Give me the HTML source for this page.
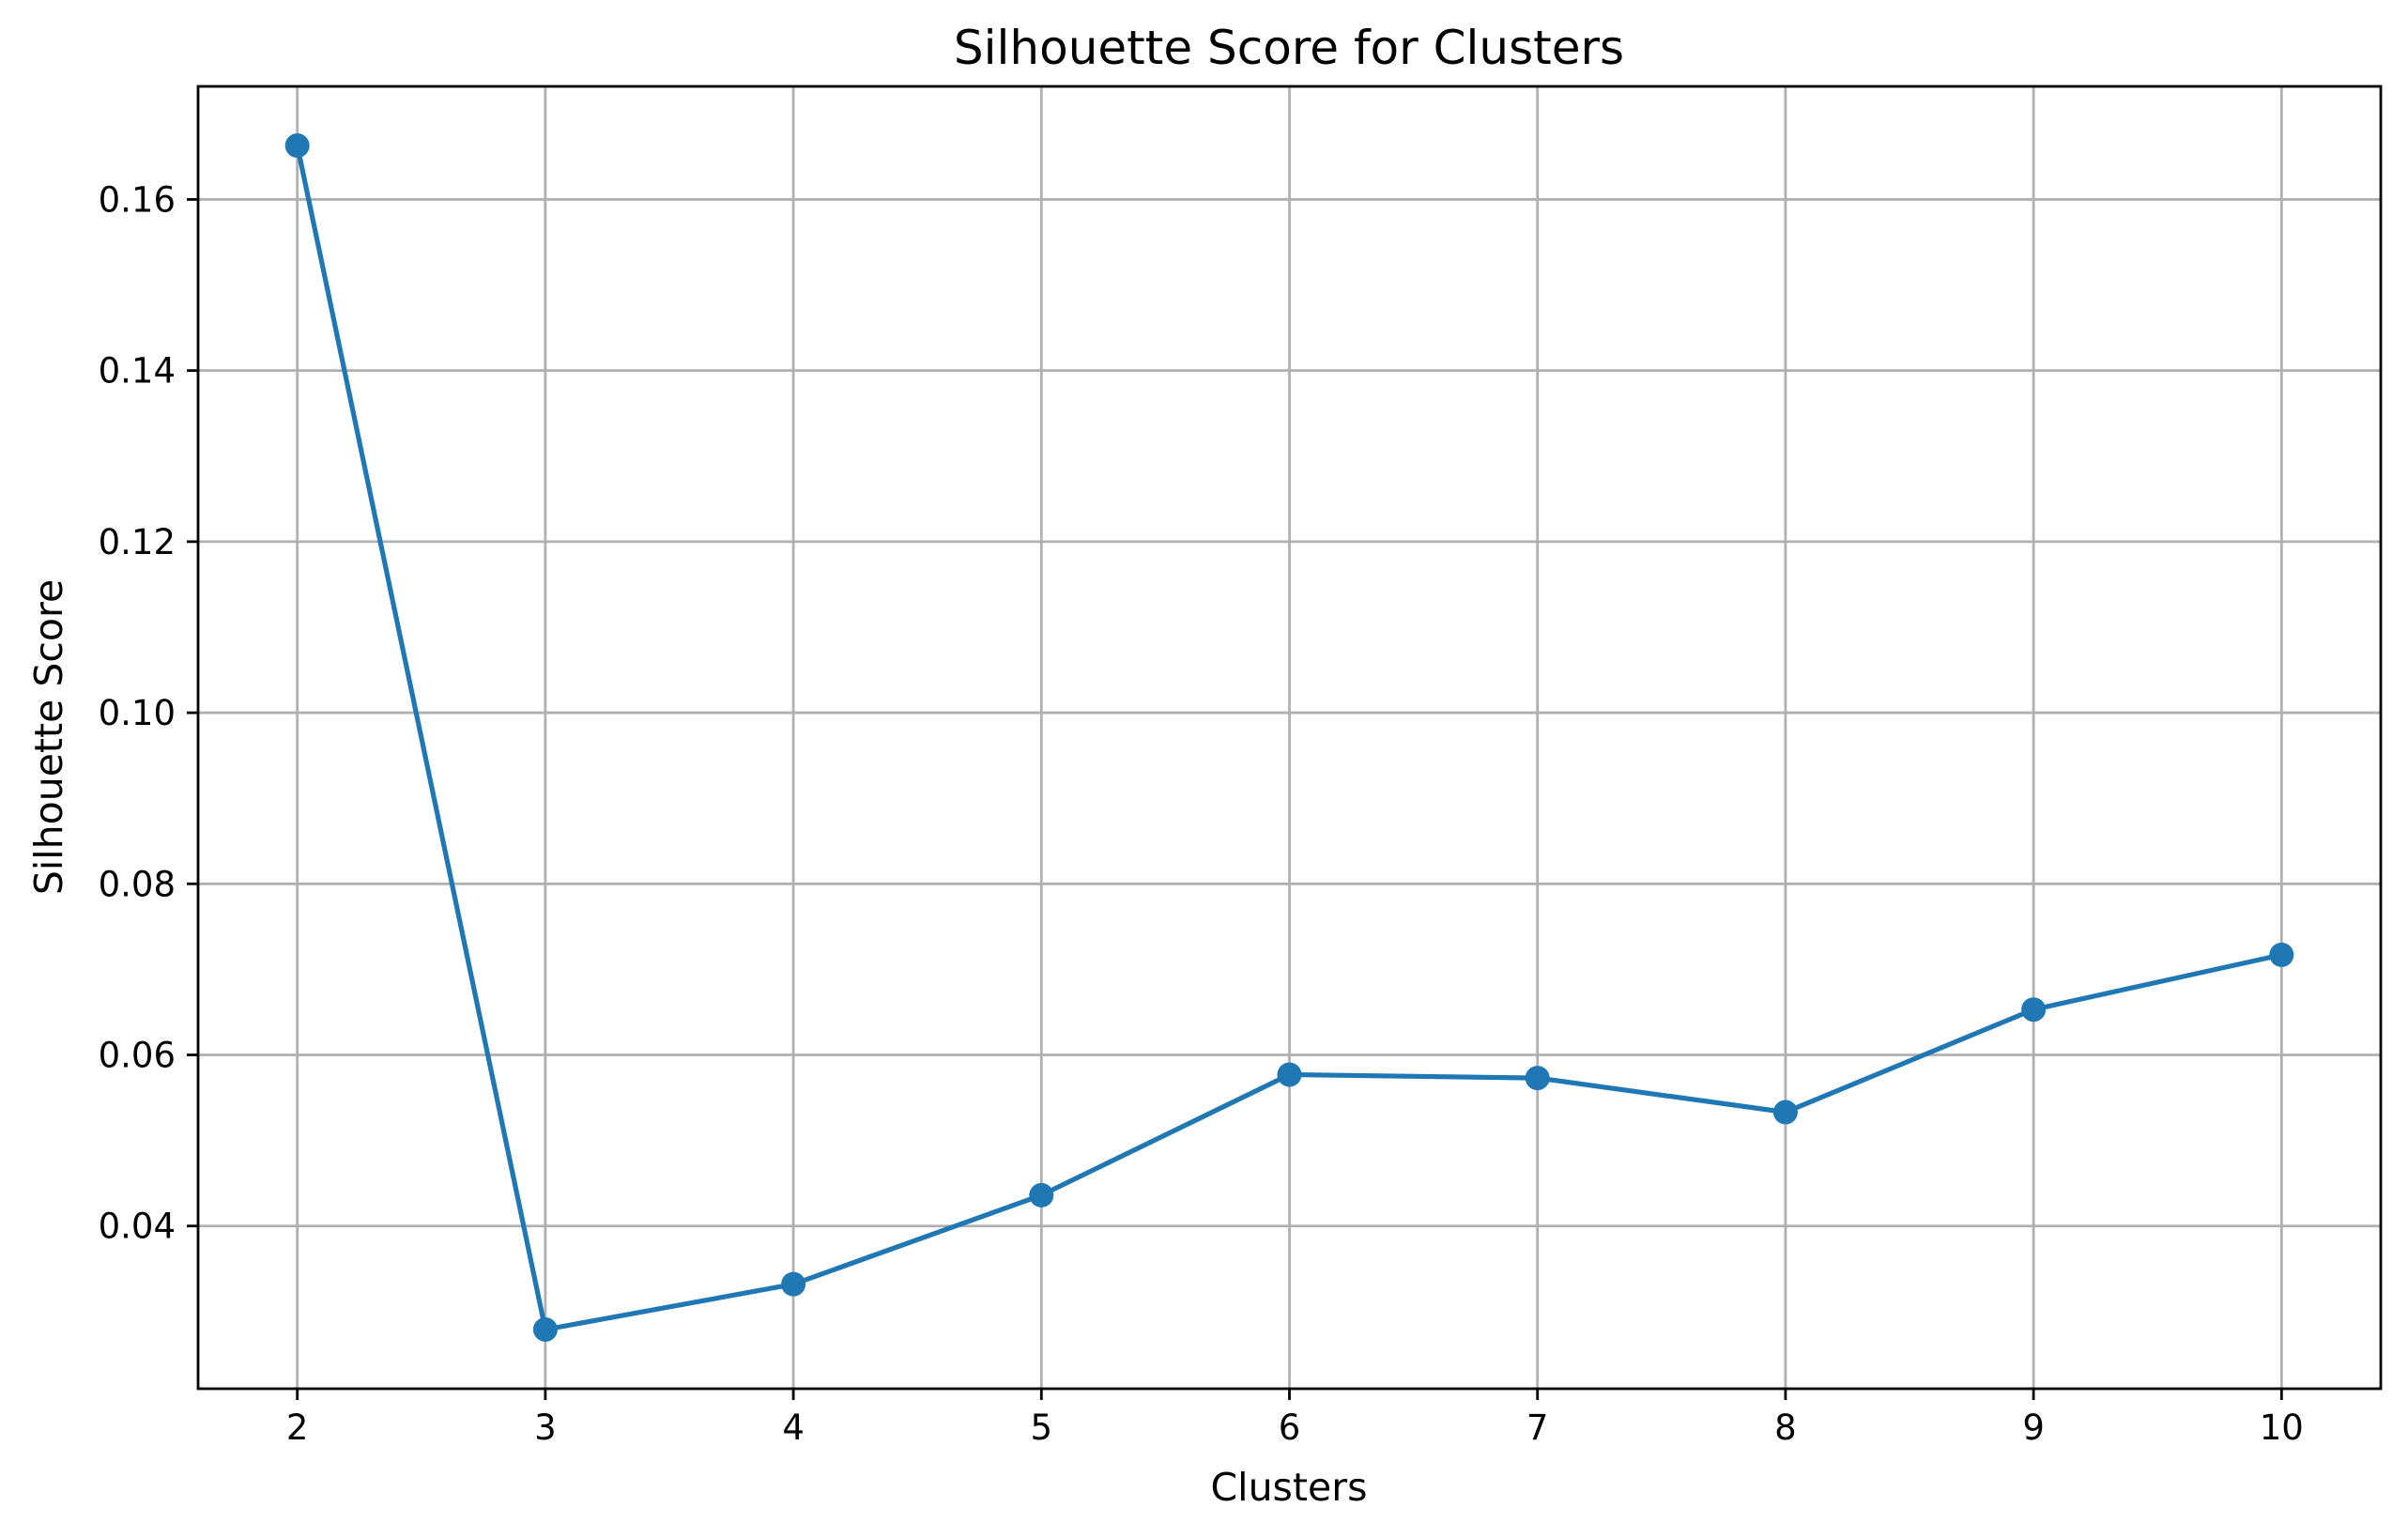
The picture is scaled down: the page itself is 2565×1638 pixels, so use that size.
<!DOCTYPE html>
<html><head><meta charset="utf-8"><style>
html,body{margin:0;padding:0;background:#fff;}
svg{display:block;font-family:"DejaVu Sans","Liberation Sans",sans-serif;}
</style></head><body>
<svg id="chart" width="2565" height="1638" viewBox="0 0 2565 1638">
<rect x="0" y="0" width="2565" height="1638" fill="#fff"/>
<g id="grid"></g>
<g id="series"></g>
<rect x="211" y="92" width="2325" height="1387" fill="none" stroke="#000" stroke-width="2.8"/>
<g id="ticks"></g>
<text x="1373" y="68" text-anchor="middle" font-size="50">Silhouette Score for Clusters</text>
<text x="1373" y="1598" text-anchor="middle" font-size="41">Clusters</text>
<text x="0" y="0" transform="translate(66,785) rotate(-90)" text-anchor="middle" font-size="41">Silhouette Score</text>
</svg>
<script>
const clusters = [2, 3, 4, 5, 6, 7, 8, 9, 10];
const scores = [0.1663, 0.0279, 0.0332, 0.0436, 0.0577, 0.0573, 0.0533, 0.0653, 0.0717];
const xTicks = [2, 3, 4, 5, 6, 7, 8, 9, 10];
const yTicks = [0.04, 0.06, 0.08, 0.10, 0.12, 0.14, 0.16];
const yTickLabels = ["0.04", "0.06", "0.08", "0.10", "0.12", "0.14", "0.16"];

const L = 211, R = 2536, T = 92, B = 1479;
const xmin = 1.6, xmax = 10.4, ymin = 0.02098, ymax = 0.17322;
function sx(v){ return L + (v - xmin) / (xmax - xmin) * (R - L); }
function sy(v){ return B - (v - ymin) / (ymax - ymin) * (B - T); }
const NS = "http://www.w3.org/2000/svg";
function mk(tag, attrs, parent){
  const e = document.createElementNS(NS, tag);
  for (const k in attrs) e.setAttribute(k, attrs[k]);
  parent.appendChild(e);
  return e;
}
const grid = document.getElementById('grid');
const ticks = document.getElementById('ticks');
const series = document.getElementById('series');

xTicks.forEach(function(v){
  const x = sx(v);
  const g = mk('line', {x1:x, x2:x, y1:T, y2:B, stroke:'#b0b0b0', 'stroke-width':2.8}, grid);
  
  
  const t = mk('line', {x1:x, x2:x, y1:B, y2:B+12, stroke:'#000', 'stroke-width':2.8}, ticks);
  
  
  const lb = mk('text', {x:x, y:B+54, 'text-anchor':'middle', 'font-size':37}, ticks);
  lb.textContent = String(v);
  
  
});
yTicks.forEach(function(v, i){
  const y = sy(v);
  const g = mk('line', {x1:L, x2:R, y1:y, y2:y, stroke:'#b0b0b0', 'stroke-width':2.8}, grid);
  
  
  const t = mk('line', {x1:L-12, x2:L, y1:y, y2:y, stroke:'#000', 'stroke-width':2.8}, ticks);
  
  
  const lb = mk('text', {x:L-24, y:y+13, 'text-anchor':'end', 'font-size':37}, ticks);
  lb.textContent = yTickLabels[i];
  
  
});
const pts = clusters.map(function(c, i){ return sx(c).toFixed(1) + ',' + sy(scores[i]).toFixed(1); }).join(' ');
const line = mk('polyline', {points:pts, fill:'none', stroke:'#1f77b4', 'stroke-width':5.2, 'stroke-linejoin':'round', 'stroke-linecap':'square'}, series);


clusters.forEach(function(c, i){
  const p = mk('circle', {cx:sx(c), cy:sy(scores[i]), r:13, fill:'#1f77b4'}, series);
  
  
});
</script>
</body></html>
